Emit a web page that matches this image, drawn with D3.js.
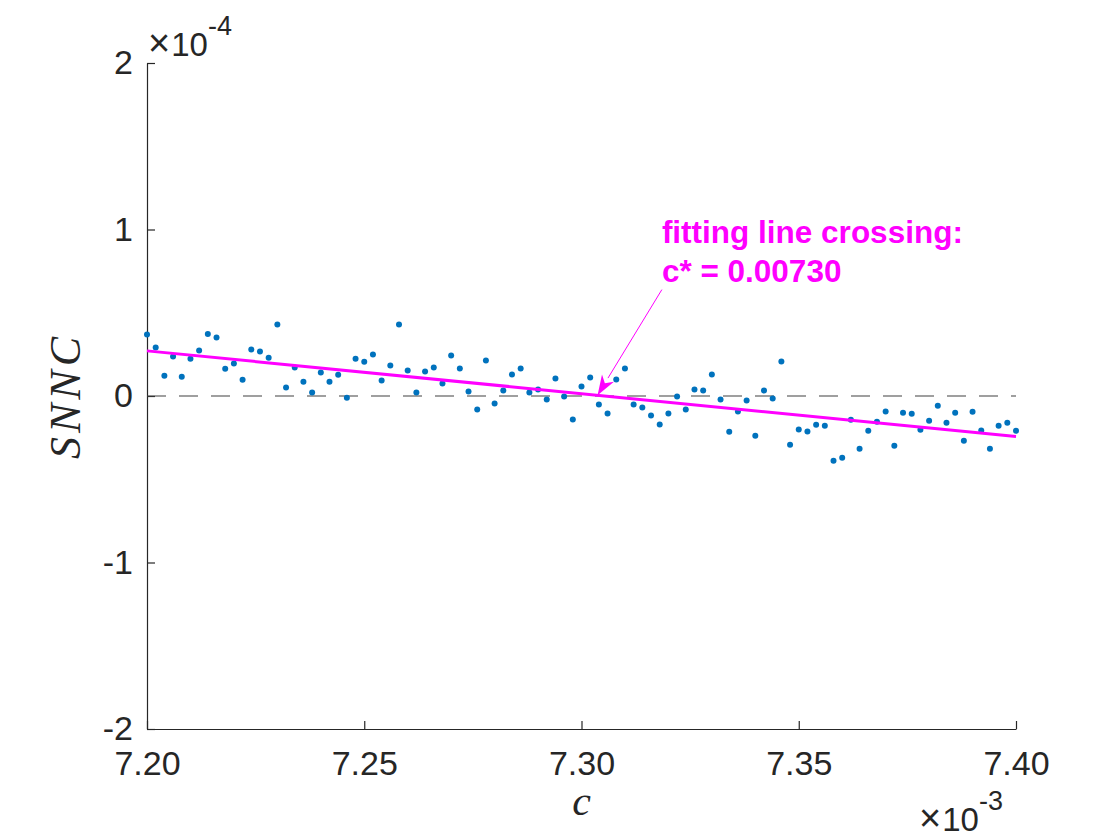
<!DOCTYPE html>
<html>
<head>
<meta charset="utf-8">
<script src="https://cdn.jsdelivr.net/npm/d3@7"></script>
<style>
  body { margin: 0; background: #fff; }
  svg text { font-family: "Liberation Sans", Arial, Helvetica, sans-serif; fill: #262626; }
</style>
</head>
<body>
<div id="chart"></div>
<script>
// c values, in units of 1e-3
const cValues = [
  7.200, 7.202, 7.204, 7.206, 7.208, 7.210, 7.212, 7.214, 7.216, 7.218,
  7.220, 7.222, 7.224, 7.226, 7.228, 7.230, 7.232, 7.234, 7.236, 7.238,
  7.240, 7.242, 7.244, 7.246, 7.248, 7.250, 7.252, 7.254, 7.256, 7.258,
  7.260, 7.262, 7.264, 7.266, 7.268, 7.270, 7.272, 7.274, 7.276, 7.278,
  7.280, 7.282, 7.284, 7.286, 7.288, 7.290, 7.292, 7.294, 7.296, 7.298,
  7.300, 7.302, 7.304, 7.306, 7.308, 7.310, 7.312, 7.314, 7.316, 7.318,
  7.320, 7.322, 7.324, 7.326, 7.328, 7.330, 7.332, 7.334, 7.336, 7.338,
  7.340, 7.342, 7.344, 7.346, 7.348, 7.350, 7.352, 7.354, 7.356, 7.358,
  7.360, 7.362, 7.364, 7.366, 7.368, 7.370, 7.372, 7.374, 7.376, 7.378,
  7.380, 7.382, 7.384, 7.386, 7.388, 7.390, 7.392, 7.394, 7.396, 7.398,
  7.400
]
// SNNC values, in units of 1e-4
const snncValues = [
  0.369, 0.291, 0.121, 0.237, 0.115, 0.223, 0.273, 0.373, 0.351, 0.163,
  0.195, 0.097, 0.279, 0.267, 0.229, 0.429, 0.051, 0.171, 0.085, 0.021,
  0.141, 0.085, 0.127, -0.011, 0.223, 0.205, 0.249, 0.093, 0.183, 0.429,
  0.153, 0.021, 0.147, 0.171, 0.075, 0.243, 0.165, 0.027, -0.081, 0.213,
  -0.045, 0.033, 0.129, 0.165, 0.021, 0.039, -0.021, 0.105, -0.003, -0.141,
  0.057, 0.111, -0.051, -0.105, 0.099, 0.165, -0.051, -0.069, -0.117, -0.171,
  -0.105, -0.003, -0.081, 0.039, 0.033, 0.129, -0.021, -0.214, -0.093, -0.027,
  -0.239, 0.033, -0.015, 0.207, -0.293, -0.201, -0.213, -0.173, -0.179, -0.389,
  -0.371, -0.143, -0.317, -0.209, -0.155, -0.093, -0.299, -0.101, -0.107, -0.203,
  -0.149, -0.059, -0.161, -0.101, -0.269, -0.095, -0.207, -0.317, -0.179, -0.161,
  -0.209
]
// fitted line end points
const fitC = [7.20, 7.40]
const fitSnnc = [0.271, -0.243]

const xTicks = [7.20, 7.25, 7.30, 7.35, 7.40]
const yTicks = [-2, -1, 0, 1, 2]

const annotationLines = ['fitting line crossing:', 'c* = 0.00730']
const arrowTail = [7.3185, 0.639]
const arrowHead = [7.3037, 0.005]

const width = 1120, height = 840
const margin = {top: 63, right: 104, bottom: 111, left: 147}

const svg = d3.select('#chart').append('svg')
  .attr('width', width)
  .attr('height', height)

const x = d3.scaleLinear().domain([7.20, 7.40]).range([margin.left, width - margin.right])
const y = d3.scaleLinear().domain([-2, 2]).range([height - margin.bottom, margin.top])

// axes
const xAxis = svg.append('g')
  .attr('transform', `translate(0, ${height - margin.bottom})`)
  .call(d3.axisBottom(x).tickValues(xTicks).tickFormat(d => d.toFixed(2))
    .tickSizeInner(-8).tickSizeOuter(0).tickPadding(22))
const yAxis = svg.append('g')
  .attr('transform', `translate(${margin.left}, 0)`)
  .call(d3.axisLeft(y).tickValues(yTicks).tickFormat(d => String(d))
    .tickSizeInner(-8).tickSizeOuter(0).tickPadding(14))

for (const ax of [xAxis, yAxis]) {
  ax.select('.domain').attr('stroke', '#262626').attr('stroke-width', 1.2)
  ax.selectAll('.tick line').attr('stroke', '#262626').attr('stroke-width', 1.2)
  ax.selectAll('.tick text')
    .style('font-size', '34px')
    .style('font-family', '"Liberation Sans", Arial, sans-serif')
    .attr('fill', '#262626')
}

// exponent labels
function exponent(px, py, power) {
  const t = svg.append('text')
    .attr('x', px)
    .attr('y', py)
    .style('font-size', '33px')
  t.append('tspan').style('font-size', '38px').style('font-weight', '200').text('\u00d7')
  t.append('tspan').attr('dx', 1).text('10')
  t.append('tspan').attr('dy', -21).style('font-size', '27px').text(power)
}
exponent(margin.left + 1, 56, '-4')
exponent(919, 831, '-3')

// zero reference line
svg.append('line')
  .attr('x1', x(7.20))
  .attr('x2', x(7.40))
  .attr('y1', y(0))
  .attr('y2', y(0))
  .attr('stroke', '#404040')
  .attr('stroke-width', 1.2)
  .attr('stroke-dasharray', '19 13')

// scatter
const points = cValues.map((c, i) => ({c: c, v: snncValues[i]}))
svg.selectAll('.dot')
  .data(points)
  .enter().append('circle')
  .attr('class', 'dot')
  .attr('cx', d => x(d.c))
  .attr('cy', d => y(d.v))
  .attr('r', 3)
  .attr('fill', '#0072bd')

// fitted line
svg.append('path')
  .datum(fitC.map((c, i) => [c, fitSnnc[i]]))
  .attr('d', d3.line().x(d => x(d[0])).y(d => y(d[1])))
  .attr('fill', 'none')
  .attr('stroke', '#ff00ff')
  .attr('stroke-width', 3)

// annotation arrow
const x0 = x(arrowTail[0]), y0 = y(arrowTail[1])
const x1 = x(arrowHead[0]), y1 = y(arrowHead[1])
const ang = Math.atan2(y1 - y0, x1 - x0)
const headLen = 20, headW = 7
const bx = x1 - headLen * Math.cos(ang), by = y1 - headLen * Math.sin(ang)
svg.append('line')
  .attr('x1', x0).attr('y1', y0)
  .attr('x2', bx).attr('y2', by)
  .attr('stroke', '#ff00ff')
  .attr('stroke-width', 1)
svg.append('path')
  .attr('d', `M ${x1} ${y1}
    L ${bx + headW * Math.sin(ang)} ${by - headW * Math.cos(ang)}
    L ${x1 - 0.7 * headLen * Math.cos(ang)} ${y1 - 0.7 * headLen * Math.sin(ang)}
    L ${bx - headW * Math.sin(ang)} ${by + headW * Math.cos(ang)} Z`)
  .attr('fill', '#ff00ff')

svg.selectAll('.annot')
  .data(annotationLines)
  .enter().append('text')
  .attr('class', 'annot')
  .attr('x', x(arrowTail[0]))
  .attr('y', (d, i) => y(0.921) + i * 39)
  .style('font-size', '31.5px')
  .style('font-weight', 'bold')
  .style('fill', '#ff00ff')
  .text(d => d)

// axis titles
svg.append('text')
  .attr('x', x(7.30))
  .attr('y', 815)
  .attr('text-anchor', 'middle')
  .style('font-family', '"Liberation Serif", "Times New Roman", serif')
  .style('font-style', 'italic')
  .style('font-size', '42px')
  .text('c')

svg.append('text')
  .attr('transform', `translate(80, ${y(0)}) rotate(-90)`)
  .attr('text-anchor', 'middle')
  .style('font-family', '"Liberation Serif", "Times New Roman", serif')
  .style('font-style', 'italic')
  .style('font-size', '44px')
  .style('letter-spacing', '4px')
  .text('SNNC')
</script>
</body>
</html>
